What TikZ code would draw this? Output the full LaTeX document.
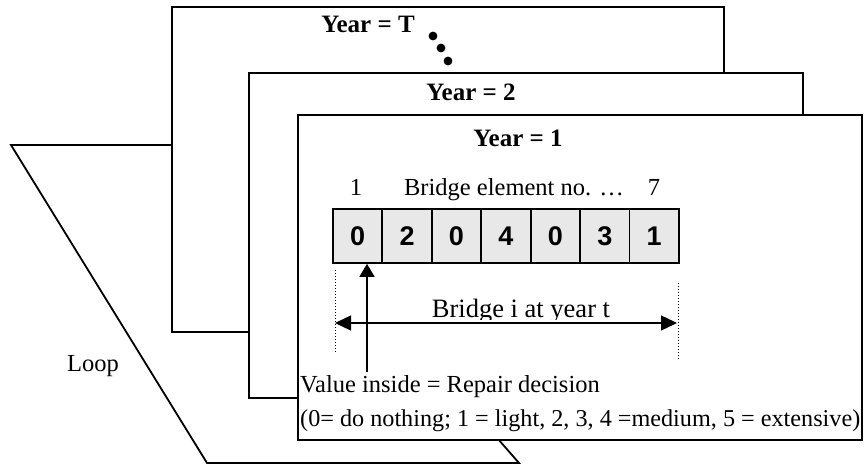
\documentclass[tikz,border=0pt]{standalone}
\usepackage{fontspec}
\setmainfont{Liberation Serif}
\setsansfont{Liberation Sans}
\usetikzlibrary{arrows.meta}
\begin{document}
\begin{tikzpicture}[x=1pt,y=-1pt,
  frame/.style={draw=black, line width=2.2pt, fill=white},
  loopline/.style={draw=black, line width=1.8pt, fill=white, line join=miter},
  cell/.style={draw=black, line width=1.8pt, fill=black!9, minimum width=49.43pt, minimum height=54pt, inner sep=0pt, anchor=north west, font=\sffamily\bfseries\fontsize{27}{27}\selectfont},
  txt/.style={font=\fontsize{24.5}{28}\selectfont, inner sep=0pt, anchor=base},
  title/.style={font=\bfseries\fontsize{25}{28}\selectfont, inner sep=0pt, anchor=base},
  arr/.style={line width=1.3pt},
]
\useasboundingbox (0,0) rectangle (865,465);
% loop trapezoid behind the frames
\path[loopline] (11,145) -- (207,463) -- (519,463) -- (241,145) -- cycle;
% frames
\path[frame] (172,7) rectangle (724,332);
\path[frame] (249,73) rectangle (803,398);
\path[frame] (298,115) rectangle (862,440);
% titles
\node[title] (yT) at (368,33) {Year = T};
\node[title] (y2) at (471,101) {Year = 2};
\node[title] (y1) at (518,147) {Year = 1};
\fill (433,36) circle (4.4pt);
\fill (441,48) circle (4.4pt);
\fill (448,61) circle (4.4pt);
% element labels
\node[txt] (n1) at (356,196) {1};
\node[txt] (lbl) at (514,196) {Bridge element no. …};
\node[txt] (n7) at (654,196) {7};
% cells
\foreach \v [count=\i] in {0,2,0,4,0,3,1}
  \node[cell] (c\i) at ({332+(\i-1)*49.43},208) {\v};
% bridge span
\draw[dotted, line width=1pt] (335,270) -- (335,352);
\draw[dotted, line width=1pt] (678,283) -- (678,360);
\begin{scope}
\clip (0,0) rectangle (865,319);
\node[font=\fontsize{26.5}{28}\selectfont, inner sep=0pt, anchor=base] (span) at (521,317) {Bridge i at year t};
\end{scope}
\coordinate (dl) at (335,323);
\coordinate (dr) at (677,323);
\draw[arr, {Triangle[length=16pt,width=15pt]}-{Triangle[length=16pt,width=15pt]}] (dl) -- (dr);
% value text
\node[txt, anchor=base west] (val1) at (300,392) {Value inside = Repair decision};
\node[txt, anchor=base west, font=\fontsize{24.2}{28}\selectfont] (val2) at (300,426) {(0= do nothing; 1 = light, 2, 3, 4 =medium, 5 = extensive)};
\coordinate (vt) at (367,372);
\draw[arr, -{Triangle[length=13pt,width=15pt]}] (vt) -- (vt |- c1.south);
% loop label
\node[txt, anchor=base west] (loop) at (67,371) {Loop};
\end{tikzpicture}
\end{document}
